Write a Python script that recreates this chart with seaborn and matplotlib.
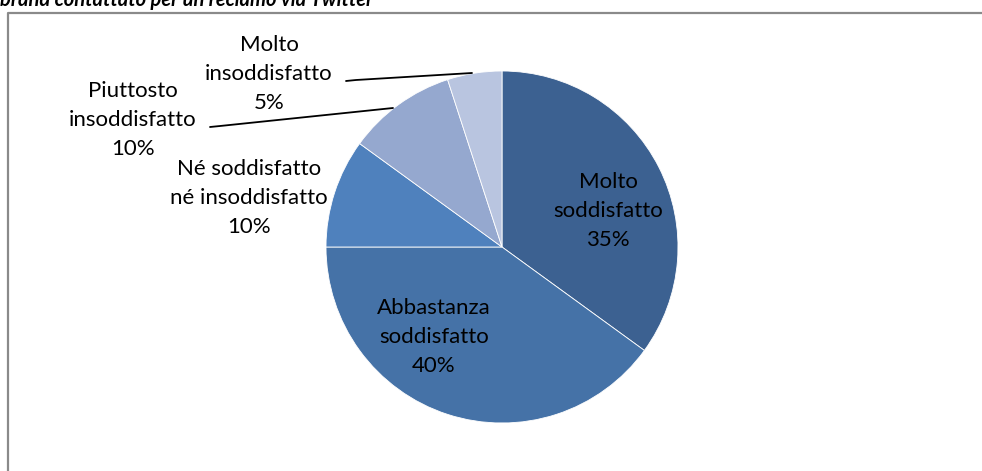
import matplotlib
matplotlib.use("Agg")
import matplotlib.pyplot as plt
import seaborn as sns

sns.set_theme(style="white")
plt.rcParams['font.family'] = ['Lato', 'DejaVu Sans']

# ---- data ----
categories = ["Molto\nsoddisfatto", "Abbastanza\nsoddisfatto", "Né soddisfatto\nné insoddisfatto",
              "Piuttosto\ninsoddisfatto", "Molto\ninsoddisfatto"]
values = [35, 40, 10, 10, 5]
colors = ["#3C6191", "#4572A7", "#4F81BD", "#95A8CF", "#B9C5E0"]
title = "brand contattato per un reclamo via Twitter"

W, H = 982, 471
fig = plt.figure(figsize=(W / 100, H / 100), dpi=100)
ax = fig.add_axes([0, 0, 1, 1])

def Y(y):  # pixel-from-top -> data y
    return H - y

cx, cy, r = 502, 247, 176
ax.pie(values, colors=colors, startangle=90, counterclock=False,
       center=(cx, Y(cy)), radius=r, frame=True,
       wedgeprops=dict(linewidth=0.6, edgecolor="white"))
ax.set_xlim(0, W)
ax.set_ylim(0, H)
ax.set_aspect("equal")
ax.axis("off")

# label layout (pixel positions of label centres)
label_pos = [(608, 211), (434, 337), (249, 198), (133, 120), (269, 74)]
fs = 16
for cat, v, (px, py) in zip(categories, values, label_pos):
    ax.text(px, Y(py), f"{cat}\n{v}%", ha="center", va="center",
            fontsize=fs, color="black", linespacing=1.55)

# leader lines
ax.plot([346, 356, 472], [Y(81), Y(80), Y(73)], color="black", lw=1.3)
ax.plot([210, 220, 393], [Y(127), Y(126), Y(108)], color="black", lw=1.3)

# chart frame
ax.plot([8, 8, W + 5], [-5, Y(13), Y(13)], color="#8a8a8a", lw=1.6, clip_on=False)

# cut-off title (as in the reference, only its lower part is visible)
fig.text(0, 1 - 6.5 / H, title, ha="left", va="baseline", fontsize=14.5,
         fontweight="bold", fontstyle="italic", color="black")

fig.savefig("out.png", dpi=100)
